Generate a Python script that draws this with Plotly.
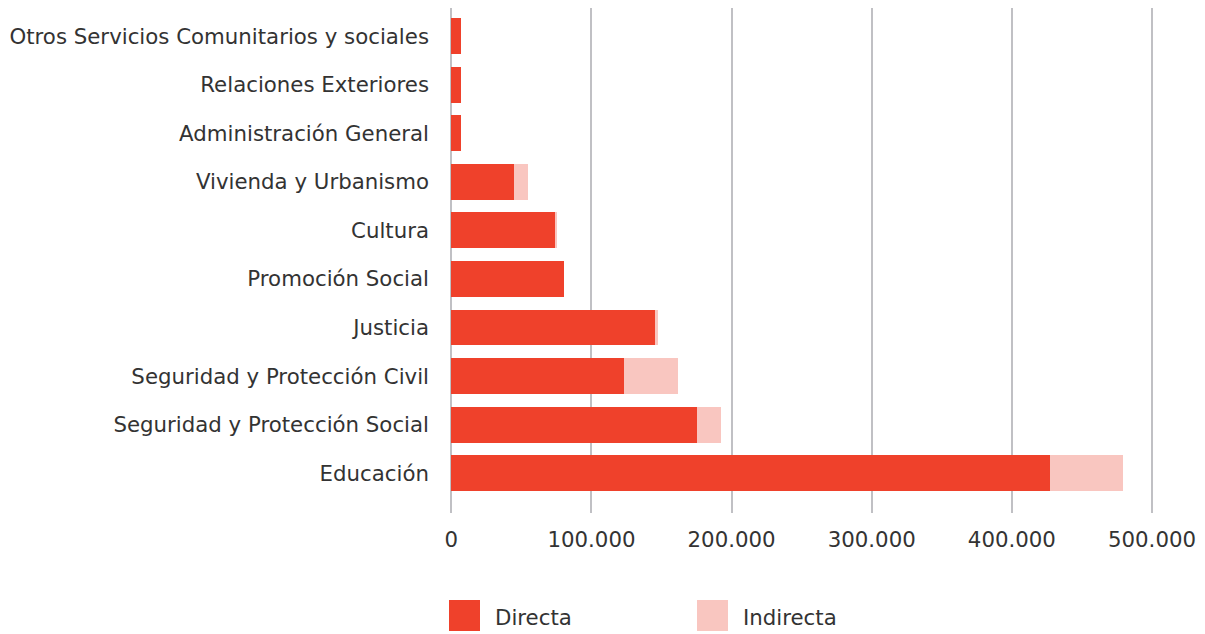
import plotly.graph_objects as go

categories = [
    "Educación",
    "Seguridad y Protección Social",
    "Seguridad y Protección Civil",
    "Justicia",
    "Promoción Social",
    "Cultura",
    "Vivienda y Urbanismo",
    "Administración General",
    "Relaciones Exteriores",
    "Otros Servicios Comunitarios y sociales",
]
directa = [427400, 175300, 123100, 146000, 80500, 74000, 45000, 6800, 6800, 6800]
indirecta = [52000, 17300, 38700, 1400, 0, 1300, 10000, 0, 0, 0]
series_names = ["Directa", "Indirecta"]
series_colors = ["#EF412B", "#F9C6C0"]
x_ticks = [0, 100000, 200000, 300000, 400000, 500000]

FONT = "DejaVu Sans"
TXT = "#333333"
FS = 21.3

fig = go.Figure()
for name, vals, col in zip(series_names, [directa, indirecta], series_colors):
    fig.add_trace(go.Bar(
        y=categories, x=vals, name=name, orientation="h",
        marker=dict(color=col, line=dict(width=0)),
        showlegend=False,
    ))

# page body has an 8px margin, so the figure is 8px smaller and shifted
fig.update_layout(
    width=1197, height=626,
    barmode="stack", bargap=0.26,
    separators=",.",
    plot_bgcolor="white", paper_bgcolor="white",
    margin=dict(l=441, r=50, t=0, b=121),
    font=dict(family=FONT, size=FS, color=TXT),
    xaxis=dict(
        range=[-1641, 502141], tickvals=x_ticks, tickformat=",d",
        showgrid=True, gridcolor="#C0C0C4", gridwidth=2.3,
        zeroline=False, showline=False, ticks="",
        ticklabelstandoff=12,
        tickfont=dict(family=FONT, size=FS, color=TXT),
    ),
    yaxis=dict(
        categoryorder="array", categoryarray=categories,
        range=[-0.82, 9.58], showgrid=False, zeroline=False,
        showline=False, ticks="", ticklabelstandoff=19,
        tickfont=dict(family=FONT, size=FS, color=TXT),
    ),
)

# Custom legend (large square swatches); positions in page pixels
pw, ph = 706.0, 505.0
def px_x(p):
    return (p - 449) / pw
def px_y(p):
    return (513 - p) / ph

legend_left = [449, 697]
for i, (name, col) in enumerate(zip(series_names, series_colors)):
    x0 = legend_left[i]
    fig.add_shape(type="rect", xref="paper", yref="paper",
                  x0=px_x(x0), x1=px_x(x0 + 31), y0=px_y(631), y1=px_y(600),
                  fillcolor=col, line=dict(width=0))
    fig.add_annotation(xref="paper", yref="paper", x=px_x(x0 + 44), y=px_y(617),
                       text=name, showarrow=False, xanchor="left", yanchor="middle",
                       font=dict(family=FONT, size=FS, color=TXT))

fig.write_html("out.html")
